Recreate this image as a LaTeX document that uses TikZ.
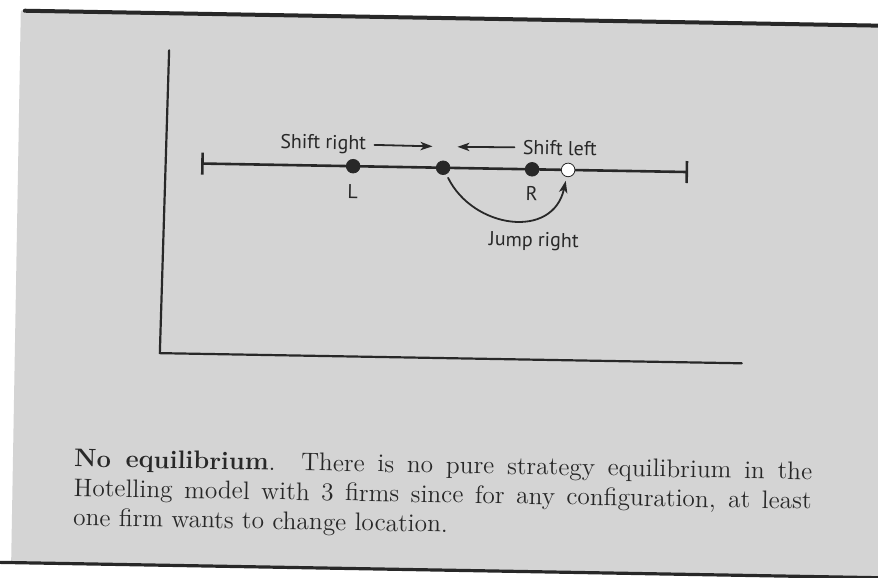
\documentclass[tikz,border=0pt]{standalone}
\usepackage{fontspec}
\newfontfamily\labelfont{PT Sans}
\usetikzlibrary{positioning,arrows.meta}
\definecolor{paper}{RGB}{212,212,212}
\definecolor{ink}{RGB}{40,40,40}
\begin{document}
\begin{tikzpicture}[x=0.5pt, y=-0.5pt, line join=round, line cap=round, >={Stealth[length=6pt,width=4.2pt,inset=1.6pt]}]
	\tikzset{dot/.style={circle, draw=ink, fill=ink, inner sep=0pt, minimum size=6.8pt},
		opendot/.style={dot, fill=white},
		label text/.style={font=\labelfont\fontsize{10}{12}\selectfont, text=ink, inner sep=1pt}}
	
	\def \ymid{167.7}
	\def \yshift{146.5}
	\useasboundingbox (0,0) rectangle (878,578);
	\fill[white] (0,0) rectangle (878,578);
	\begin{scope}[rotate around={-1:(439,289)}, transform shape]
		\fill[paper] (16,18) rectangle (930,570);
		\draw[ink, line width=2pt] (20,18) -- (930,18);
		\draw[ink, line width=1.6pt] (-20,570) -- (930,570);
		% axes
		\coordinate (top) at (165,55);
		\coordinate (origin) at (161,358);
		\coordinate (right) at (743,358);
		\draw[ink, line width=1.1pt] (top) -- (origin) -- (right);
		% the line of customers
		\coordinate (A) at (199,\ymid);
		\coordinate (B) at (686,\ymid);
		\draw[ink, line width=1.3pt, {Bar[width=11pt]}-{Bar[width=11pt]}] (A) -- (B);
		\node[dot] (L) at (351,\ymid) {};
		\node[dot] (M) at (441,\ymid) {};
		\node[dot] (R) at (530,\ymid) {};
		\node[opendot] (J) at (566,\ymid) {};
		\node[label text, below=4.5pt of L] (Ltext) {L};
		\node[label text, below=4pt of R] (Rtext) {R};
		% moves
		\coordinate (srTip) at (430,\yshift);
		\coordinate (slTip) at (455,\yshift);
		\node[label text, anchor=east] (shiftR) at (366,146) {Shift right};
		\node[label text, anchor=west] (shiftL) at (518,146) {Shift left};
		\draw[ink, line width=0.9pt, ->, shorten <=3pt] (shiftR.east) -- (srTip);
		\draw[ink, line width=0.9pt, ->, shorten <=3pt] (shiftL.west) -- (slTip);
		\draw[ink, line width=0.9pt, ->, shorten <=2pt, shorten >=2pt] (M) .. controls (472,228) and (552,238) .. (J);
		\node[label text] (jumpText) at (533,240) {Jump right};
		% caption
		\node[anchor=base west, inner sep=0pt, text=ink] (caption) at (77,473) {\begin{minipage}[t]{369pt}\fontsize{12.7}{14.75}\selectfont
			\textbf{No equilibrium}.\ \ There is no pure strategy equilibrium in the\linebreak
			Hotelling model with 3 firms since for any configuration, at least\linebreak
			one firm wants to change location.\end{minipage}};
	\end{scope}
\end{tikzpicture}
\end{document}
